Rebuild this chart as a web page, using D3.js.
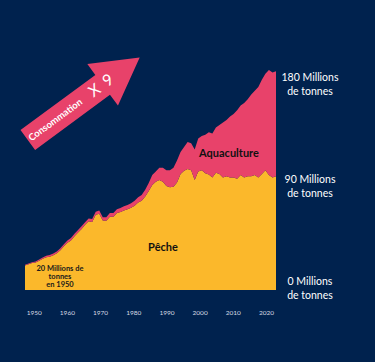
<!DOCTYPE html>
<html>
<head>
<meta charset="utf-8">
<script src="https://cdn.jsdelivr.net/npm/d3@7"></script>
<style>
  html, body { margin: 0; padding: 0; background: #00224e; }
  svg { display: block; }
  text { font-family: Lato, "Open Sans", sans-serif; }
</style>
</head>
<body>
<svg id="svg" width="375" height="362"></svg>
<script>
// production mondiale (millions de tonnes)
var years = [1950, 1951, 1952, 1953, 1954, 1955, 1956, 1957, 1958, 1959,
  1960, 1961, 1962, 1963, 1964, 1965, 1966, 1967, 1968, 1969,
  1970, 1971, 1972, 1973, 1974, 1975, 1976, 1977, 1978, 1979,
  1980, 1981, 1982, 1983, 1984, 1985, 1986, 1987, 1988, 1989,
  1990, 1991, 1992, 1993, 1994, 1995, 1996, 1997, 1998, 1999,
  2000, 2001, 2002, 2003, 2004, 2005, 2006, 2007, 2008, 2009,
  2010, 2011, 2012, 2013, 2014, 2015, 2016, 2017, 2018, 2019,
  2020, 2021];

var peche = [20, 21, 22, 22.4, 24, 25.5, 26.8, 27.3, 28.4, 30,
  32.5, 35.8, 38.7, 40.6, 44, 47, 50, 53.3, 56.2, 55.7,
  61.5, 62.4, 56.8, 56.6, 60, 60, 63, 63.8, 65, 66,
  67.2, 69, 71.5, 73, 76.5, 81, 86, 88.5, 90, 88.5,
  85, 84, 84.5, 88, 95, 97.5, 99, 98, 90, 97,
  98, 95.5, 94.5, 92, 96, 95, 92, 93, 92, 92,
  91, 94, 92, 93, 93, 94, 92, 95, 98, 94,
  92, 93];

var aquaculture = [0.6, 0.7, 0.8, 0.9, 1.0, 1.1, 1.2, 1.3, 1.4, 1.5,
  1.6, 1.7, 1.8, 1.9, 2.0, 2.0, 2.1, 2.2, 2.3, 2.3,
  2.5, 2.6, 2.7, 2.9, 3.0, 3.0, 3.1, 3.3, 3.5, 3.6,
  3.8, 4.0, 4.4, 4.8, 5.5, 6.5, 8, 8.5, 10, 11.5,
  13, 14, 15.5, 18, 18, 19.5, 22, 22, 25, 27,
  28, 31.5, 34.5, 36, 37, 40, 45, 46, 50, 52,
  56, 57, 61, 63, 67, 69, 74, 77, 79, 86,
  86, 86];

var tickYears = [1950, 1960, 1970, 1980, 1990, 2000, 2010, 2020];
var tickValues = [0, 90, 180];

var svg = d3.select("#svg");

svg.append("rect")
  .attr("width", 375)
  .attr("height", 362)
  .attr("fill", "#00224e");

var x = d3.scaleLinear().domain([1950, 2021]).range([25, 276]),
    y = d3.scaleLinear().domain([0, 180]).range([290, 70]),
    xTick = d3.scaleLinear().domain([1950, 2020]).range([33.7, 266]),
    yLabel = d3.scaleLinear().domain([0, 180]).range([288, 84]);

var data = years.map(function (d, i) {
  return {year: d, peche: peche[i], aquaculture: aquaculture[i]};
});

var stack = d3.stack().keys(["peche", "aquaculture"]);
var series = stack(data);
var colors = {peche: "#fbb82b", aquaculture: "#e8426a"};

var area = d3.area()
  .x(function (d) { return x(d.data.year); })
  .y0(function (d) { return y(d[0]); })
  .y1(function (d) { return y(d[1]); });

svg.selectAll(".layer")
  .data(series)
  .enter()
  .append("path")
  .attr("class", "layer")
  .attr("d", area)
  .attr("fill", function (d) { return colors[d.key]; });

// années
var xAxis = svg.append("g")
  .attr("transform", "translate(0,307)")
  .call(d3.axisBottom(xTick).tickValues(tickYears).tickSize(0).tickFormat(d3.format("d")));
xAxis.select(".domain").remove();
xAxis.selectAll("text")
  .attr("fill", "#d5d9e3")
  .attr("font-size", 6.5)
  .attr("font-family", "Lato, sans-serif");

// étiquettes de droite
var yl = svg.selectAll(".ylab")
  .data(tickValues)
  .enter()
  .append("text")
  .attr("class", "ylab")
  .attr("text-anchor", "middle")
  .attr("fill", "#ffffff")
  .attr("font-size", 10.5);
yl.append("tspan")
  .attr("x", 310)
  .attr("y", function (d) { return yLabel(d) - 3; })
  .text(function (d) { return d + " Millions"; });
yl.append("tspan")
  .attr("x", 310)
  .attr("y", function (d) { return yLabel(d) + 10.5; })
  .text("de tonnes");

// libellés des aires
svg.append("text")
  .attr("x", 163).attr("y", 251)
  .attr("text-anchor", "middle")
  .attr("font-weight", "bold")
  .attr("font-size", 11)
  .attr("fill", "#111")
  .text("Pêche");

svg.append("text")
  .attr("x", 229).attr("y", 157)
  .attr("text-anchor", "middle")
  .attr("font-weight", "bold")
  .attr("font-size", 11)
  .attr("fill", "#111")
  .text("Aquaculture");

var note = svg.append("text")
  .attr("text-anchor", "middle")
  .attr("font-weight", "bold")
  .attr("font-size", 7.5)
  .attr("fill", "#1a1a1a");
["20 Millions de", "tonnes", "en 1950"].forEach(function (t, i) {
  note.append("tspan").attr("x", 60).attr("y", 271 + i * 8).text(t);
});

// flèche
var arrow = svg.append("g")
  .attr("transform", "translate(27.8,140) rotate(-36.4)");
arrow.append("path")
  .attr("d", "M0,-12.3 L93,-12.3 L93,-25.8 L139,0 L93,25.8 L93,12.3 L0,12.3 Z")
  .attr("fill", "#e8426a");
arrow.append("text")
  .attr("x", 2).attr("y", 3.3)
  .attr("font-weight", "bold")
  .attr("font-size", 9.5)
  .attr("fill", "#fff")
  .text("Consommation");
arrow.append("text")
  .attr("x", 78).attr("y", 5)
  .attr("font-size", 16)
  .attr("letter-spacing", 1.5)
  .attr("fill", "#fff")
  .text("X 9");
</script>
</body>
</html>
